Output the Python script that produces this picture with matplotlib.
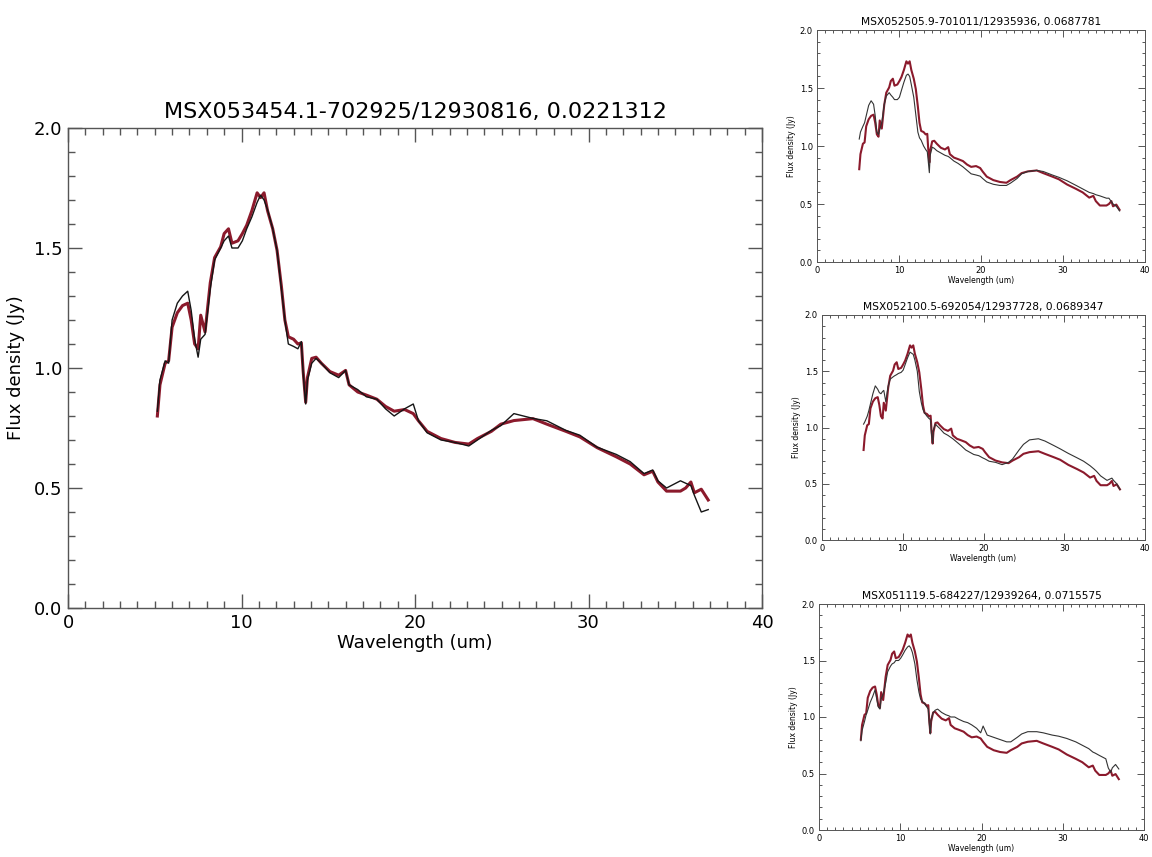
import matplotlib
matplotlib.use("Agg")
import matplotlib.pyplot as plt
from matplotlib.ticker import MultipleLocator

# common wavelength grid (um)
wavelength = [5.15, 5.3, 5.6, 5.8, 6.0, 6.3, 6.6, 6.9, 7.1, 7.3,
              7.5, 7.65, 7.9, 8.2, 8.45, 8.8, 9.0, 9.25, 9.45, 9.8,
              10.05, 10.3, 10.6, 10.9, 11.1, 11.3, 11.5, 11.8, 12.05, 12.3,
              12.5, 12.7, 13.0, 13.25, 13.45, 13.55, 13.7, 13.8, 14.05, 14.3,
              14.6, 15.1, 15.6, 16.0, 16.2, 16.7, 17.2, 17.8, 18.3, 18.8,
              19.4, 19.9, 20.2, 20.7, 21.5, 22.3, 23.1, 23.6, 24.4, 24.95,
              25.7, 26.8, 27.6, 28.7, 29.5, 30.5, 31.6, 32.4, 33.2, 33.7,
              34.0, 34.5, 35.3, 35.6, 35.9, 36.1, 36.5, 36.9]

# template spectrum (red), same in every panel
template = [0.80, 0.93, 1.02, 1.03, 1.17, 1.23, 1.26, 1.27, 1.20, 1.10,
            1.08, 1.22, 1.15, 1.355, 1.46, 1.505, 1.56, 1.58, 1.52, 1.53,
            1.56, 1.595, 1.656, 1.73, 1.71, 1.73, 1.656, 1.58, 1.49, 1.34,
            1.20, 1.13, 1.12, 1.10, 1.105, 0.99, 0.857, 0.96, 1.04, 1.045,
            1.02, 0.985, 0.97, 0.99, 0.93, 0.90, 0.887, 0.87, 0.84, 0.82,
            0.827, 0.81, 0.78, 0.736, 0.706, 0.69, 0.683, 0.706, 0.736, 0.766,
            0.781, 0.789, 0.766, 0.736, 0.713, 0.668, 0.63, 0.60, 0.555, 0.57,
            0.525, 0.487, 0.487, 0.50, 0.525, 0.48, 0.495, 0.45]

# observed spectra (black)
obs_main = [0.82, 0.95, 1.03, 1.02, 1.20, 1.27, 1.30, 1.32, 1.24, 1.12,
            1.045, 1.12, 1.14, 1.33, 1.45, 1.50, 1.53, 1.55, 1.50, 1.50,
            1.53, 1.58, 1.63, 1.69, 1.72, 1.70, 1.66, 1.58, 1.49, 1.33,
            1.20, 1.10, 1.09, 1.08, 1.11, 0.98, 0.85, 0.95, 1.02, 1.04,
            1.02, 0.98, 0.96, 0.99, 0.93, 0.91, 0.88, 0.87, 0.83, 0.80,
            0.83, 0.85, 0.78, 0.73, 0.70, 0.69, 0.675, 0.70, 0.74, 0.76,
            0.81, 0.79, 0.78, 0.74, 0.72, 0.67, 0.64, 0.61, 0.56, 0.575,
            0.53, 0.50, 0.53, 0.52, 0.51, 0.47, 0.40, 0.41]

obs_top = [1.06, 1.12, 1.17, 1.20, 1.26, 1.35, 1.39, 1.36, 1.26, 1.12,
           1.10, 1.14, 1.20, 1.36, 1.43, 1.46, 1.44, 1.42, 1.40, 1.40,
           1.42, 1.48, 1.55, 1.61, 1.62, 1.60, 1.53, 1.42, 1.27, 1.12,
           1.07, 1.05, 1.00, 0.97, 0.95, 0.88, 0.77, 0.92, 0.99, 0.98,
           0.96, 0.94, 0.92, 0.91, 0.90, 0.87, 0.85, 0.82, 0.79, 0.76,
           0.75, 0.74, 0.72, 0.69, 0.67, 0.66, 0.66, 0.68, 0.72, 0.76,
           0.78, 0.79, 0.78, 0.75, 0.73, 0.70, 0.66, 0.63, 0.60, 0.59,
           0.58, 0.57, 0.55, 0.55, 0.52, 0.50, 0.48, 0.44]

obs_mid = [1.03, 1.05, 1.10, 1.15, 1.21, 1.30, 1.37, 1.34, 1.31, 1.30,
           1.32, 1.33, 1.23, 1.37, 1.43, 1.45, 1.46, 1.47, 1.48, 1.49,
           1.51, 1.56, 1.62, 1.67, 1.66, 1.65, 1.60, 1.50, 1.32, 1.22,
           1.16, 1.13, 1.10, 1.08, 1.07, 0.95, 0.86, 0.98, 1.03, 1.01,
           0.99, 0.95, 0.93, 0.91, 0.90, 0.87, 0.84, 0.80, 0.78, 0.76,
           0.75, 0.73, 0.72, 0.70, 0.69, 0.67, 0.69, 0.72, 0.80, 0.85,
           0.89, 0.90, 0.88, 0.84, 0.81, 0.77, 0.73, 0.70, 0.66, 0.63,
           0.61, 0.57, 0.53, 0.54, 0.55, 0.53, 0.50, 0.45]

obs_bot = [0.79, 0.88, 0.96, 1.02, 1.06, 1.13, 1.18, 1.24, 1.16, 1.09,
           1.07, 1.16, 1.20, 1.30, 1.40, 1.45, 1.47, 1.48, 1.50, 1.50,
           1.52, 1.55, 1.59, 1.62, 1.63, 1.61, 1.57, 1.47, 1.33, 1.22,
           1.16, 1.14, 1.12, 1.09, 1.07, 0.96, 0.85, 0.98, 1.04, 1.06,
           1.07, 1.04, 1.02, 1.01, 1.00, 1.00, 0.98, 0.96, 0.95, 0.93,
           0.90, 0.86, 0.92, 0.84, 0.82, 0.80, 0.78, 0.78, 0.82, 0.85,
           0.87, 0.87, 0.86, 0.84, 0.83, 0.81, 0.78, 0.75, 0.72, 0.69,
           0.68, 0.66, 0.63, 0.55, 0.51, 0.55, 0.58, 0.54]

titles = ["MSX053454.1-702925/12930816, 0.0221312",
          "MSX052505.9-701011/12935936, 0.0687781",
          "MSX052100.5-692054/12937728, 0.0689347",
          "MSX051119.5-684227/12939264, 0.0715575"]

RED = '#8b1a2c'
BLK = '#151515'
W, H = 1152, 857


def px_axes(fig, left, right, top, bottom):
    return fig.add_axes([left / W, 1 - bottom / H, (right - left) / W, (bottom - top) / H])


def style(ax, title, fs_title, fs_tick, fs_lab, maj, lw_ax, pad):
    ax.set_xlim(0, 40)
    ax.set_ylim(0, 2.0)
    ax.xaxis.set_major_locator(MultipleLocator(10))
    ax.xaxis.set_minor_locator(MultipleLocator(1))
    ax.yaxis.set_major_locator(MultipleLocator(0.5))
    ax.yaxis.set_minor_locator(MultipleLocator(0.1))
    ax.yaxis.set_major_formatter(plt.FormatStrFormatter('%.1f'))
    ax.tick_params(which='both', direction='in', top=True, right=True,
                   colors='#555555', labelcolor='black', labelsize=fs_tick, width=lw_ax)
    ax.tick_params(which='major', length=maj, pad=pad)
    ax.tick_params(which='minor', length=maj / 2)
    for s in ax.spines.values():
        s.set_color('#555555')
        s.set_linewidth(lw_ax)
    ax.set_title(title, fontsize=fs_title, pad=fs_title * 0.45)
    ax.set_xlabel('Wavelength (um)', fontsize=fs_lab, labelpad=fs_lab * 0.15)
    ax.set_ylabel('Flux density (Jy)', fontsize=fs_lab, labelpad=fs_lab * 0.5)


fig = plt.figure(figsize=(W / 100, H / 100), dpi=100)

# big panel
ax0 = px_axes(fig, 68, 762, 128, 608)
ax0.plot(wavelength, template, color=RED, lw=2.2)
ax0.plot(wavelength, obs_main, color=BLK, lw=1.0)
style(ax0, titles[0], 16, 13, 13, 10, 1.0, 4)

# small panels on the right
small = [((817, 1145, 30, 262), obs_top, titles[1]),
         ((822, 1145, 315, 540), obs_mid, titles[2]),
         ((819, 1144, 604, 830), obs_bot, titles[3])]
for (l, r, t, b), obs, ttl in small:
    ax = px_axes(fig, l, r, t, b)
    ax.plot(wavelength, template, color=RED, lw=1.5)
    ax.plot(wavelength, obs, color='#333333', lw=0.8)
    style(ax, ttl, 7.7, 6, 5.5, 5, 0.7, 3)

fig.savefig('out.png', dpi=100)
